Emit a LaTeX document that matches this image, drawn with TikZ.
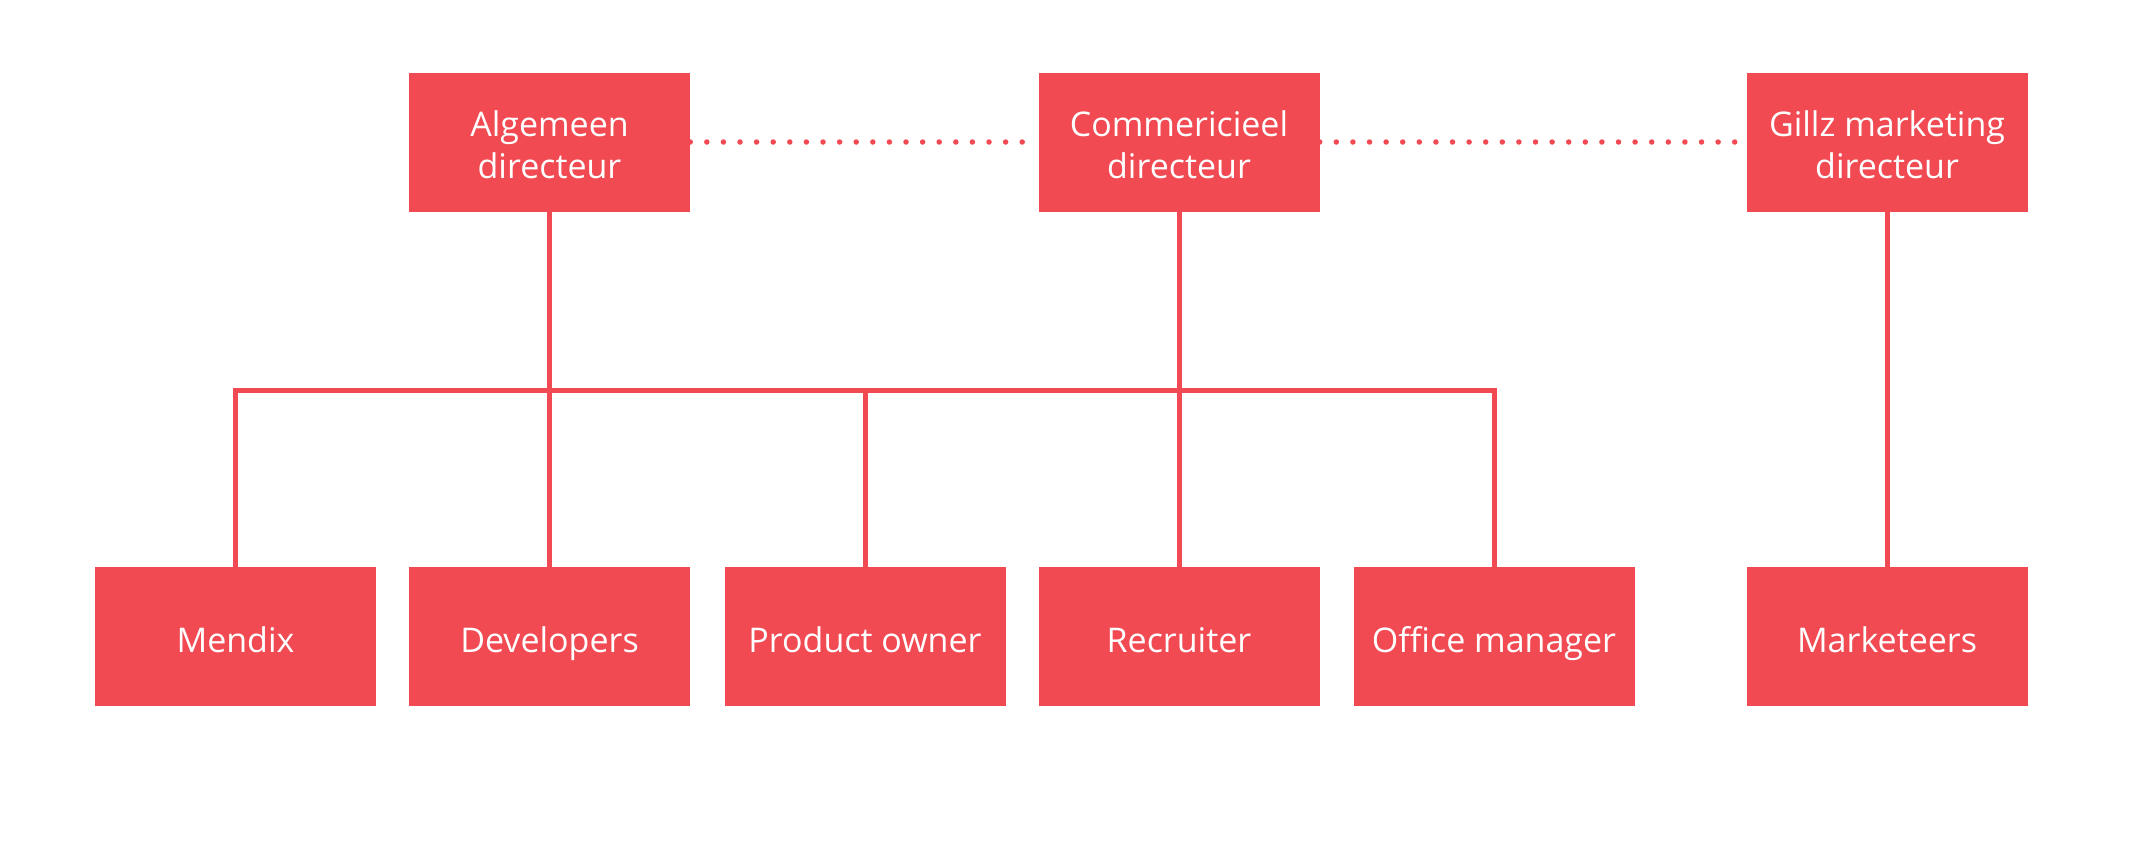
\documentclass[tikz,border=0pt]{standalone}
\usepackage{fontspec}
\setmainfont{Open Sans}
\definecolor{orgred}{HTML}{F24A52}
\newcommand{\unitstrut}{\rule[-12pt]{0pt}{56pt}}
\newcommand{\firstlinestrut}{\rule{0pt}{31pt}}
\begin{document}
\begin{tikzpicture}[x=1pt,y=-1pt,
  unitbase/.style={rectangle, fill=orgred, draw=none, text=white, minimum width=281pt, minimum height=139pt, inner sep=0pt, align=center, font=\fontsize{34}{42}\selectfont},
  unit/.style={unitbase, execute at begin node=\unitstrut},
  topunit/.style={unitbase},
  link/.style={draw=orgred, line width=5pt, line join=miter},
  peer/.style={draw=orgred, line width=5.5pt, line cap=round, dash pattern=on 0pt off 16.6pt}]
\useasboundingbox (0,0) rectangle (2154,844);
\fill[white] (0,0) rectangle (2154,844);
% top row
\node[topunit] (alg) at (549.5,142) {\firstlinestrut Algemeen\\directeur};
\node[topunit] (com) at (1179,142) {\firstlinestrut Commericieel\\directeur};
\node[topunit] (gil) at (1887,142) {\firstlinestrut Gillz marketing\\directeur};
% bottom row
\node[unit] (men) at (235.5,636.5) {Mendix};
\node[unit] (dev) at (549.5,636.5) {Developers};
\node[unit] (pro) at (865,636.5) {Product owner};
\node[unit] (rec) at (1179,636.5) {Recruiter};
\node[unit] (off) at (1494,636.5) {Office manager};
\node[unit] (mar) at (1887,636.5) {Marketeers};
\coordinate (busy) at (0,390);
% dotted peer lines
\draw[peer] (alg.east) -- (com.west);
\draw[peer] (com.east) -- (gil.west);
% hierarchy
\draw[link] (men.north) -- (men.north |- busy) -- (off.north |- busy) -- (off.north);
\draw[link] (alg.south) -- (dev.north);
\draw[link] (com.south) -- (rec.north);
\draw[link] (pro.north) -- (pro.north |- busy);
\draw[link] (gil.south) -- (mar.north);
\end{tikzpicture}
\end{document}
